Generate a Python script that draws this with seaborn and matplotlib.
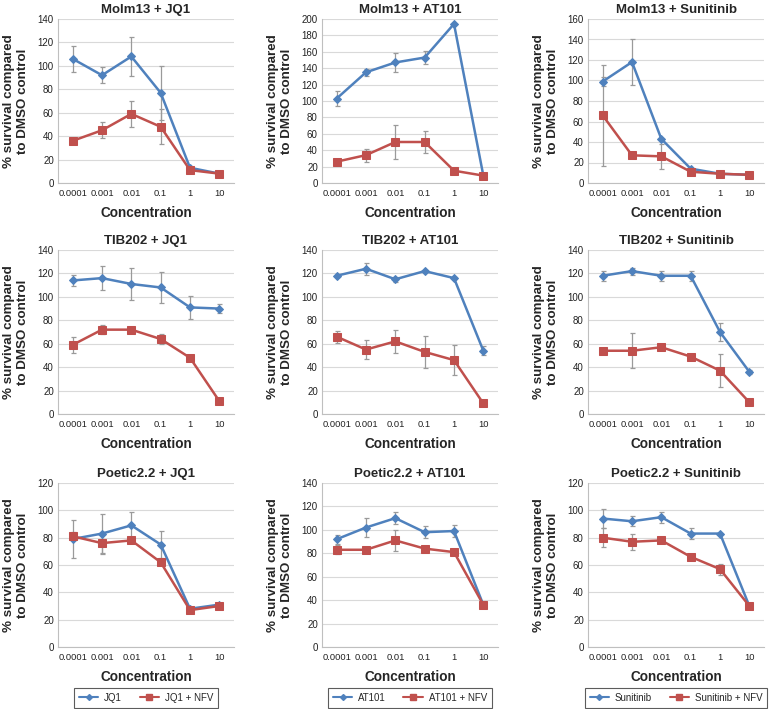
import matplotlib
matplotlib.use("Agg")
import matplotlib.pyplot as plt
from matplotlib.lines import Line2D
import seaborn as sns
import pandas as pd

sns.set_theme(style="white")
plt.rcParams["font.family"] = ["Liberation Sans", "DejaVu Sans"]

conc_labels = ["0.0001", "0.001", "0.01", "0.1", "1", "10"]
cell_lines = ["Molm13", "TIB202", "Poetic2.2"]
drugs = ["JQ1", "AT101", "Sunitinib"]

# Molm13
molm13_jq1 = [106, 92, 108, 77, 13, 8]
molm13_jq1_err = [11, 7, 17, 23, 0, 0]
molm13_jq1_nfv = [36, 45, 59, 48, 11, 8]
molm13_jq1_nfv_err = [0, 7, 11, 15, 0, 0]
molm13_at101 = [103, 135, 147, 153, 194, 9]
molm13_at101_err = [9, 4, 12, 8, 0, 0]
molm13_at101_nfv = [26, 34, 50, 50, 15, 9]
molm13_at101_nfv_err = [3, 8, 21, 13, 0, 0]
molm13_sun = [99, 118, 43, 14, 9, 8]
molm13_sun_err = [4, 22, 0, 0, 0, 0]
molm13_sun_nfv = [66, 27, 26, 11, 9, 8]
molm13_sun_nfv_err = [49, 0, 12, 0, 0, 0]
# TIB202
tib202_jq1 = [114, 116, 111, 108, 91, 90]
tib202_jq1_err = [5, 10, 14, 13, 10, 4]
tib202_jq1_nfv = [59, 72, 72, 64, 48, 11]
tib202_jq1_nfv_err = [7, 4, 1, 4, 0, 0]
tib202_at101 = [118, 124, 115, 122, 116, 54]
tib202_at101_err = [1, 5, 2, 1, 1, 4]
tib202_at101_nfv = [66, 55, 62, 53, 46, 9]
tib202_at101_nfv_err = [5, 8, 10, 14, 13, 0]
tib202_sun = [118, 122, 118, 118, 70, 36]
tib202_sun_err = [4.5, 3, 4.5, 4.5, 8, 1.5]
tib202_sun_nfv = [54, 54, 57, 49, 37, 10]
tib202_sun_nfv_err = [0, 15, 0, 0, 14, 0]
# Poetic2.2
poetic_jq1 = [79, 83, 89, 75, 28, 31]
poetic_jq1_err = [14, 14, 10, 10, 0, 0]
poetic_jq1_nfv = [81, 76, 78, 62, 27, 30]
poetic_jq1_nfv_err = [3, 8, 2, 2, 0, 0]
poetic_at101 = [92, 102, 110, 98, 99, 36]
poetic_at101_err = [4, 8, 5, 5, 5, 0]
poetic_at101_nfv = [83, 83, 91, 84, 81, 36]
poetic_at101_nfv_err = [4, 2, 9, 1, 1, 0]
poetic_sun = [94, 92, 95, 83, 83, 30]
poetic_sun_err = [7, 3.5, 4, 4, 0, 0]
poetic_sun_nfv = [80, 77, 78, 66, 57, 30]
poetic_sun_nfv_err = [7, 6, 0, 0, 4, 0]

ymax = [[140, 200, 160], [140, 140, 140], [120, 140, 120]]

panels = [
    [(molm13_jq1, molm13_jq1_err, molm13_jq1_nfv, molm13_jq1_nfv_err),
     (molm13_at101, molm13_at101_err, molm13_at101_nfv, molm13_at101_nfv_err),
     (molm13_sun, molm13_sun_err, molm13_sun_nfv, molm13_sun_nfv_err)],
    [(tib202_jq1, tib202_jq1_err, tib202_jq1_nfv, tib202_jq1_nfv_err),
     (tib202_at101, tib202_at101_err, tib202_at101_nfv, tib202_at101_nfv_err),
     (tib202_sun, tib202_sun_err, tib202_sun_nfv, tib202_sun_nfv_err)],
    [(poetic_jq1, poetic_jq1_err, poetic_jq1_nfv, poetic_jq1_nfv_err),
     (poetic_at101, poetic_at101_err, poetic_at101_nfv, poetic_at101_nfv_err),
     (poetic_sun, poetic_sun_err, poetic_sun_nfv, poetic_sun_nfv_err)],
]

BLUE = "#4F81BD"
RED = "#C0504D"
W, H = 770, 709
fig = plt.figure(figsize=(W / 100, H / 100), dpi=100)

col_left = [58, 322, 588]
ax_w = 176
row_top = [19, 250, 483]
ax_h = 164

for r in range(3):
    for c in range(3):
        left = col_left[c]
        top = row_top[r]
        ax = fig.add_axes([left / W, 1 - (top + ax_h) / H, ax_w / W, ax_h / H])
        d, de, n, ne = panels[r][c]
        pos = list(range(len(conc_labels)))
        df_d = pd.DataFrame({"pos": pos, "val": d})
        df_n = pd.DataFrame({"pos": pos, "val": n})
        ax.errorbar(pos, d, yerr=de, fmt="none", ecolor="#9a9a9a",
                    elinewidth=0.9, capsize=1.8, capthick=0.9, zorder=2)
        ax.errorbar(pos, n, yerr=ne, fmt="none", ecolor="#9a9a9a",
                    elinewidth=0.9, capsize=1.8, capthick=0.9, zorder=2)
        sns.lineplot(data=df_d, x="pos", y="val", ax=ax, color=BLUE,
                     marker="D", markersize=4, markeredgecolor=BLUE,
                     linewidth=1.8, zorder=3, legend=False)
        sns.lineplot(data=df_n, x="pos", y="val", ax=ax, color=RED,
                     marker="s", markersize=5.5, markeredgecolor=RED,
                     linewidth=1.8, zorder=4, legend=False)
        ax.set_xlim(-0.5, 5.5)
        ax.set_ylim(0, ymax[r][c])
        ax.set_yticks(range(0, ymax[r][c] + 1, 20))
        ax.set_xticks(pos)
        ax.set_xticklabels(conc_labels)
        ax.tick_params(axis="x", labelsize=6.7, length=0, pad=4, colors="#222222")
        ax.tick_params(axis="y", labelsize=7, length=0, pad=3, colors="#222222")
        ax.grid(axis="y", color="#d9d9d9", linewidth=0.8)
        ax.set_axisbelow(True)
        for s in ["top", "right"]:
            ax.spines[s].set_visible(False)
        for s in ["left", "bottom"]:
            ax.spines[s].set_color("#bfbfbf")
            ax.spines[s].set_linewidth(0.8)
        ax.set_title(f"{cell_lines[r]} + {drugs[c]}", fontsize=9.5,
                     fontweight="bold", pad=4)
        ax.set_ylabel("% survival compared\nto DMSO control", fontsize=9.6,
                      fontweight="bold", linespacing=1.25)
        ax.yaxis.set_label_coords(-0.165, 0.5)
        ax.set_xlabel("Concentration", fontsize=9.8, fontweight="bold",
                      labelpad=6)
        if r == 2:
            handles = [
                Line2D([], [], color=BLUE, marker="D", markersize=3, linewidth=1.5),
                Line2D([], [], color=RED, marker="s", markersize=4, linewidth=1.5),
            ]
            leg = ax.legend(handles, [drugs[c], drugs[c] + " + NFV"],
                            loc="center", bbox_to_anchor=(0.5, -0.31),
                            ncol=2, fontsize=7, frameon=True, fancybox=False,
                            handlelength=2.0, columnspacing=1.8,
                            borderpad=0.5, handletextpad=0.6)
            leg.get_frame().set_edgecolor("#333333")
            leg.get_frame().set_linewidth(0.8)

fig.savefig("out.png", dpi=100)
